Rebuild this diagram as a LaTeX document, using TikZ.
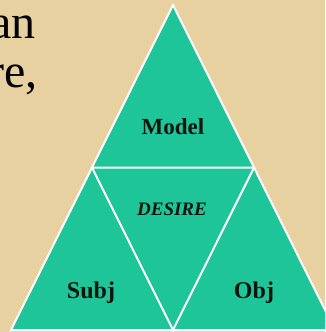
\documentclass[tikz,border=0pt]{standalone}
\usepackage{fontspec}
\setmainfont{Liberation Serif}
\definecolor{parch}{RGB}{232,209,160}
\definecolor{teal}{RGB}{30,197,152}
\definecolor{ink}{RGB}{12,20,15}
\tikzset{
  part/.style={fill=teal,draw=white,line width=2pt,line join=miter},
  lbl/.style={text=ink,font=\bfseries\fontsize{24}{24}\selectfont,inner sep=0pt},
  bigtxt/.style={text=black,font=\fontsize{48}{48}\selectfont,inner sep=0pt,anchor=base east}
}
\begin{document}
\begin{tikzpicture}[x=1pt,y=-1pt]
\useasboundingbox (0,0) rectangle (325,332);
\fill[parch] (0,0) rectangle (325,332);
\begin{scope}
\clip (0,0) rectangle (325,332);
\coordinate (A) at (173,5);
\coordinate (L) at (11,330);
\coordinate (R) at (335,330);
\coordinate (B) at (173,330);
\coordinate (ML) at (92,167.5);
\coordinate (MR) at (254,167.5);
\draw[part] (A) -- (L) -- (R) -- cycle;
\draw[white,line width=2pt] (ML) -- (MR) -- (B) -- cycle;
\node[bigtxt] (t1) at (36,38) {an};
\node[bigtxt] (t2) at (38,87) {re,};
\end{scope}
\node[lbl,font=\bfseries\fontsize{23}{23}\selectfont] (model) at (173,127) {Model};
\node[lbl,font=\bfseries\itshape\fontsize{19}{19}\selectfont] (desire) at (172,209) {DESIRE};
\node[lbl] (subj) at (91,293) {Subj};
\node[lbl] (obj) at (254,293) {Obj};
\end{tikzpicture}
\end{document}
